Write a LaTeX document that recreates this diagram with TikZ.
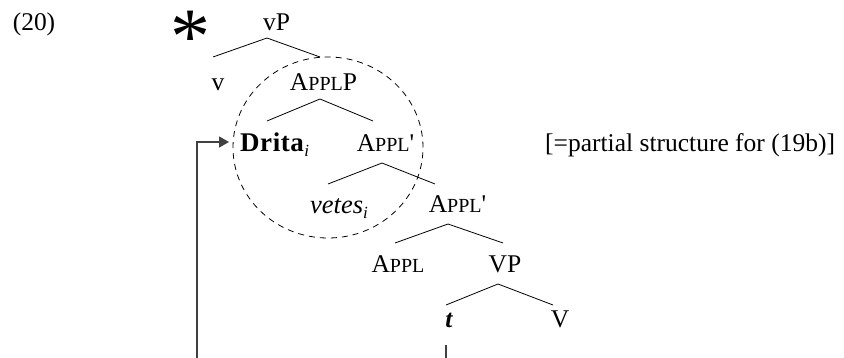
\documentclass[tikz,border=0pt]{standalone}
\usepackage{fontspec}
\setmainfont{Liberation Serif}
\usetikzlibrary{arrows.meta,calc}
\newcommand{\mysc}[1]{{\fontsize{20}{20}\selectfont #1}}
\newcommand{\mysub}[1]{\raisebox{-5pt}{\fontsize{17}{17}\selectfont\itshape #1}}
\begin{document}
\begin{tikzpicture}[x=1pt,y=-1pt,
  lbl/.style={font=\fontsize{25.5}{30}\selectfont, inner sep=0pt, anchor=base},
  branch/.style={line width=0.8pt, black},
  link/.style={line width=1.3pt, black!75},
  ring/.style={line width=0.8pt, dash pattern=on 6pt off 5pt}]
\useasboundingbox (0,0) rectangle (844,358);
% labels
\node[lbl] (ex) at (34,31) {(20)};
\node[lbl] (star) at (190,64) {\fontsize{80}{80}\selectfont *};
\node[lbl] (vP) at (276.5,31) {vP};
\node[lbl] (v) at (218,91) {v};
\node[lbl] (ApplP) at (323.5,91) {A\mysc{PPL}P};
\node[lbl, anchor=base west] (Drita) at (240,152) {\fontsize{27}{30}\selectfont\addfontfeature{LetterSpace=2}\textbf{Drita}\mysub{i}};
\node[lbl] (ApplA) at (385.5,152) {A\mysc{PPL}\textquotesingle};
\node[lbl, anchor=base west] (vetes) at (310,214) {\fontsize{26.5}{30}\selectfont\itshape vetes\mysub{i}};
\node[lbl] (ApplB) at (457.5,213) {A\mysc{PPL}\textquotesingle};
\node[lbl] (Appl) at (398,273) {A\mysc{PPL}};
\node[lbl] (VP) at (505,273) {VP};
\node[lbl] (t) at (449,327) {\bfseries\itshape t};
\node[lbl] (V) at (560,327) {V};
\node[lbl, anchor=base west] (note) at (545,152) {[=partial structure for (19b)]};
% branch points
\coordinate (vPa) at (267,38);   \coordinate (vPl) at (213,57);   \coordinate (vPr) at (320,57);
\coordinate (APa) at (320,99);   \coordinate (APl) at (267,121);  \coordinate (APr) at (373,121);
\coordinate (A1a) at (382,163);  \coordinate (A1l) at (328,184);  \coordinate (A1r) at (435,184);
\coordinate (A2a) at (448,224);  \coordinate (A2l) at (395,243);  \coordinate (A2r) at (503,243);
\coordinate (VPa) at (498,284);  \coordinate (VPl) at (446,305);  \coordinate (VPr) at (553,305);
\draw[branch] (vPl) -- (vPa) -- (vPr);
\draw[branch] (APl) -- (APa) -- (APr);
\draw[branch] (A1l) -- (A1a) -- (A1r);
\draw[branch] (A2l) -- (A2a) -- (A2r);
\draw[branch] (VPl) -- (VPa) -- (VPr);
% dashed circle
\draw[ring] (328,147.5) ellipse [x radius=95pt, y radius=90.5pt];
% movement lines
\coordinate (low) at (197,358);
\coordinate (tlow) at (446,358);
\draw[link, -{Triangle[length=10pt,width=11pt]}] (low) |- ($(Drita.base west)+(-11,-10)$);
\draw[link] ($(t.base)+(-3,18)$) -- (tlow);
\end{tikzpicture}
\end{document}
